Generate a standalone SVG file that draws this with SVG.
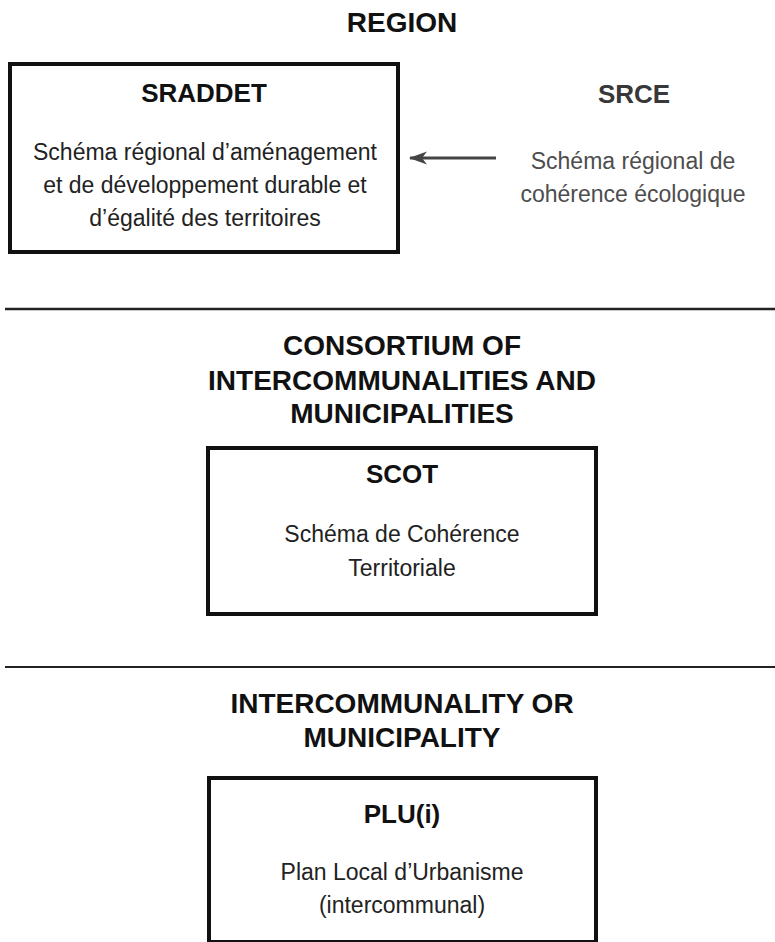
<svg xmlns="http://www.w3.org/2000/svg" width="775" height="942" viewBox="0 0 775 942">
<style>
.head{font-family:"Liberation Sans",Arial,sans-serif;font-weight:bold;font-size:28px;fill:#111;text-anchor:middle}
.title{font-family:"Liberation Sans",Arial,sans-serif;font-weight:bold;font-size:26px;fill:#111;text-anchor:middle}
.body{font-family:"Liberation Sans",Arial,sans-serif;font-size:23px;fill:#222;text-anchor:middle}
.gray{fill:#4d4d4d}
.box{fill:#fff;stroke:#111;stroke-width:4}
.sep{stroke:#222}
</style>
<defs>
<marker id="ah" markerWidth="18" markerHeight="14" refX="17" refY="7" orient="auto" markerUnits="userSpaceOnUse">
<path d="M0,0.5 L18,7 L0,13.5 L5,7 Z" fill="#444"/>
</marker>
</defs>
<rect width="775" height="942" fill="#fff"/>
<text class="head" x="402" y="32">REGION</text>
<g id="sraddet">
<rect class="box" x="10" y="64" width="388" height="188"/>
<text class="title" x="204" y="102">SRADDET</text>
<text class="body" x="205" y="160">Schéma régional d’aménagement</text>
<text class="body" x="205" y="193">et de développement durable et</text>
<text class="body" x="205" y="226">d’égalité des territoires</text>
</g>
<g id="srce">
<text class="title" x="634" y="103" style="fill:#383838">SRCE</text>
<text class="body gray" x="633" y="169">Schéma régional de</text>
<text class="body gray" x="633" y="202">cohérence écologique</text>
</g>
<g id="connectors">
<line x1="496" y1="158" x2="410" y2="158" stroke="#444" stroke-width="3" marker-end="url(#ah)"/>
</g>
<line class="sep" x1="5" y1="309" x2="775" y2="309" stroke-width="2.5"/>
<text class="head" x="402" y="355">CONSORTIUM OF</text>
<text class="head" x="402" y="390">INTERCOMMUNALITIES AND</text>
<text class="head" x="402" y="423">MUNICIPALITIES</text>
<g id="scot">
<rect class="box" x="208" y="448" width="388" height="166"/>
<text class="title" x="402" y="483">SCOT</text>
<text class="body" x="402" y="542">Schéma de Cohérence</text>
<text class="body" x="402" y="576">Territoriale</text>
</g>
<line class="sep" x1="5" y1="667" x2="775" y2="667" stroke-width="1.8"/>
<text class="head" x="402" y="713">INTERCOMMUNALITY OR</text>
<text class="head" x="402" y="747">MUNICIPALITY</text>
<g id="plu">
<rect class="box" x="209" y="778" width="387" height="164"/>
<text class="title" x="402" y="823">PLU(i)</text>
<text class="body" x="402" y="880">Plan Local d’Urbanisme</text>
<text class="body" x="402" y="913">(intercommunal)</text>
</g>
</svg>
